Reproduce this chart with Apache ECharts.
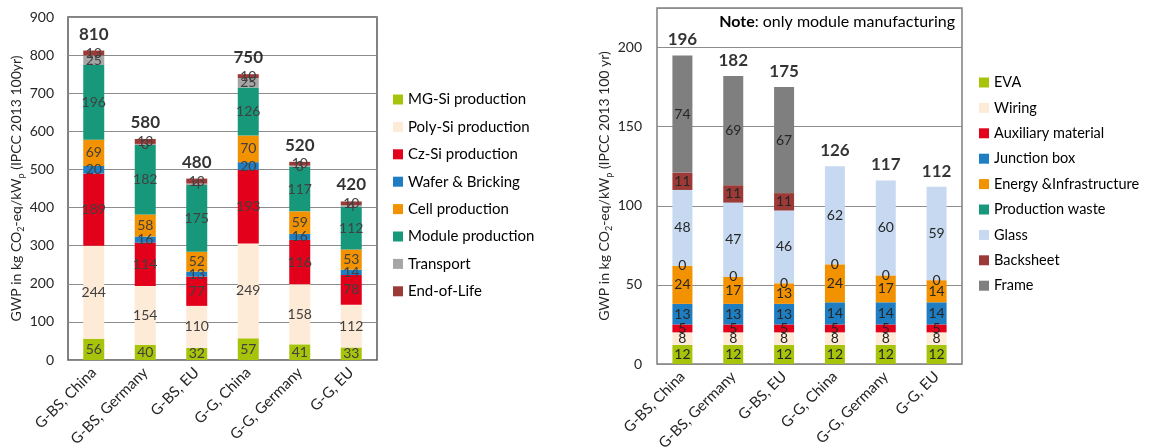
<!DOCTYPE html>
<html>
<head>
<meta charset="utf-8">
<script src="https://cdn.jsdelivr.net/npm/echarts@6/dist/echarts.min.js"></script>
<style>
html,body{margin:0;padding:0;background:#fff;}
#c{width:1154px;height:448px;}
</style>
</head>
<body>
<div id="c"></div>
<script>
// ---------- Data ----------
const categories = ['G-BS, China', 'G-BS, Germany', 'G-BS, EU', 'G-G, China', 'G-G, Germany', 'G-G, EU'];

// Left chart: full life cycle
const leftNames = ['MG-Si production', 'Poly-Si production', 'Cz-Si production', 'Wafer & Bricking', 'Cell production', 'Module production', 'Transport', 'End-of-Life'];
const mgSi = [56, 40, 32, 57, 41, 33];
const polySi = [244, 154, 110, 249, 158, 112];
const czSi = [189, 114, 77, 193, 116, 78];
const wafer = [20, 16, 13, 20, 16, 14];
const cell = [69, 58, 52, 70, 59, 53];
const moduleProd = [196, 182, 175, 126, 117, 112];
const transport = [25, 3, 4, 25, 3, 4];
const endOfLife = [13, 13, 13, 10, 10, 10];
const leftTotals = [810, 580, 480, 750, 520, 420];
const leftTicks = [0, 100, 200, 300, 400, 500, 600, 700, 800, 900];

// Right chart: module manufacturing only
const rightNames = ['EVA', 'Wiring', 'Auxiliary material', 'Junction box', 'Energy &Infrastructure', 'Production waste', 'Glass', 'Backsheet', 'Frame'];
const eva = [12, 12, 12, 12, 12, 12];
const wiring = [8, 8, 8, 8, 8, 8];
const auxiliary = [5, 5, 5, 5, 5, 5];
const junctionBox = [13, 13, 13, 14, 14, 14];
const energy = [24, 17, 13, 24, 17, 14];
const prodWaste = [0, 0, 0, 0, 0, 0];
const glass = [48, 47, 46, 62, 60, 59];
const backsheet = [11, 11, 11, 0, 0, 0];
const frame = [74, 69, 67, 0, 0, 0];
const rightTotals = [196, 182, 175, 126, 117, 112];
const rightTicks = [0, 50, 100, 150, 200];

// ---------- Styling ----------
const FONT = 'Lato';
const leftColors = ['#A8C40A', '#FDEBD7', '#E2001A', '#1F7EC2', '#F39200', '#18987A', '#A6A6A6', '#9B3A37'];
const rightColors = ['#A8C40A', '#FDEBD7', '#E2001A', '#1F7EC2', '#F39200', '#18987A', '#C6D9F0', '#9B3A37', '#7F7F7F'];

const leftData = [mgSi, polySi, czSi, wafer, cell, moduleProd, transport, endOfLife];
const rightData = [eva, wiring, auxiliary, junctionBox, energy, prodWaste, glass, backsheet, frame];

function sumStack(arrs) {
  return arrs[0].map((_, i) => arrs.reduce((s, a) => s + a[i], 0));
}
const leftSums = sumStack(leftData);
const rightSums = sumStack(rightData);

const series = [];
leftData.forEach((d, k) => {
  series.push({
    name: leftNames[k], type: 'bar', stack: 'L', xAxisIndex: 0, yAxisIndex: 0,
    data: d, barWidth: 21,
    itemStyle: { color: leftColors[k] },
    label: { show: true, position: 'inside', color: '#404040', fontFamily: FONT, fontSize: 14 },
    emphasis: { disabled: true }
  });
});
series.push({
  type: 'scatter', xAxisIndex: 0, yAxisIndex: 0, symbolSize: 0, silent: true,
  data: leftSums,
  label: { show: true, position: 'top', distance: 8, color: '#000', fontFamily: FONT, fontSize: 17, fontWeight: 'bold',
    formatter: p => leftTotals[p.dataIndex] }
});
rightData.forEach((d, k) => {
  const showZero = rightNames[k] === 'Production waste';
  series.push({
    name: rightNames[k], type: 'bar', stack: 'R', xAxisIndex: 1, yAxisIndex: 1,
    data: d, barWidth: 20,
    itemStyle: { color: rightColors[k] },
    label: { show: true, position: 'inside', color: '#262626', fontFamily: FONT, fontSize: 14,
      formatter: p => (p.value === 0 && !showZero) ? '' : p.value },
    emphasis: { disabled: true }
  });
});
series.push({
  type: 'scatter', xAxisIndex: 1, yAxisIndex: 1, symbolSize: 0, silent: true,
  data: rightSums,
  label: { show: true, position: 'top', distance: 7, color: '#000', fontFamily: FONT, fontSize: 17, fontWeight: 'bold',
    formatter: p => rightTotals[p.dataIndex] }
});

const nameRich = {
  m: { fontFamily: FONT, fontSize: 14, color: '#262626', lineHeight: 18, verticalAlign: 'middle' },
  s: { fontFamily: FONT, fontSize: 9, color: '#262626', lineHeight: 8, verticalAlign: 'bottom' }
};

function xAxis(gridIndex) {
  return {
    type: 'category', gridIndex, data: categories,
    axisLine: { show: false }, axisTick: { show: false },
    axisLabel: { rotate: 45, interval: 0, margin: 10, color: '#262626', fontFamily: FONT, fontSize: 15 }
  };
}

const option = {
  animation: false,
  backgroundColor: '#fff',
  grid: [
    { left: 68, right: 777, top: 17, bottom: 88, show: true, borderColor: '#595959', borderWidth: 1.5, containLabel: false, outerBoundsMode: 'none' },
    { left: 657, right: 192, top: 8, bottom: 84, show: true, borderColor: '#7F7F7F', borderWidth: 1.5, containLabel: false, outerBoundsMode: 'none' }
  ],
  xAxis: [xAxis(0), xAxis(1)],
  yAxis: [
    {
      type: 'value', gridIndex: 0, min: leftTicks[0], max: leftTicks[leftTicks.length - 1], interval: 100,
      axisLine: { show: false }, axisTick: { show: false },
      splitLine: { lineStyle: { color: '#8C8C8C', width: 1 } },
      axisLabel: { margin: 14, color: '#262626', fontFamily: FONT, fontSize: 14 },
      name: '{m|GWP in kg CO}{s|2}{m|-eq/kW}{s|p}{m| (IPCC 2013 100yr)}',
      nameLocation: 'middle', nameRotate: 90, nameGap: 42,
      nameTextStyle: { rich: nameRich }
    },
    {
      type: 'value', gridIndex: 1, min: rightTicks[0], max: 225, interval: 50,
      axisLine: { show: false }, axisTick: { show: false },
      splitLine: { lineStyle: { color: '#8C8C8C', width: 1 } },
      axisLabel: { margin: 15, color: '#262626', fontFamily: FONT, fontSize: 14, showMaxLabel: false,
        formatter: v => rightTicks.indexOf(v) >= 0 ? v : '' },
      name: '{m|GWP in kg CO}{s|2}{m|-eq/kW}{s|p}{m| (IPCC 2013 100 yr)}',
      nameLocation: 'middle', nameRotate: 90, nameGap: 40,
      nameTextStyle: { rich: nameRich }
    }
  ],
  legend: [
    {
      data: leftNames, orient: 'vertical', left: 388, top: 87,
      icon: 'rect', itemWidth: 10, itemHeight: 10, itemGap: 12.4, selectedMode: false,
      textStyle: { fontFamily: FONT, fontSize: 15, color: '#000' }
    },
    {
      data: rightNames, orient: 'vertical', left: 974, top: 70,
      icon: 'rect', itemWidth: 10, itemHeight: 10, itemGap: 10.4, selectedMode: false,
      textStyle: { fontFamily: FONT, fontSize: 14.5, color: '#000' }
    }
  ],
  graphic: [
    {
      type: 'text', right: 1154 - 955, top: 14,
      style: {
        text: '{b|Note}{n|: only module manufacturing}',
        rich: {
          b: { fontFamily: FONT, fontSize: 16, fontWeight: 'bold', fill: '#000' },
          n: { fontFamily: FONT, fontSize: 16, fill: '#000' }
        }
      }
    }
  ],
  series
};

const chart = echarts.init(document.getElementById('c'), null, { renderer: 'canvas' });
chart.setOption(option);
</script>
</body>
</html>
